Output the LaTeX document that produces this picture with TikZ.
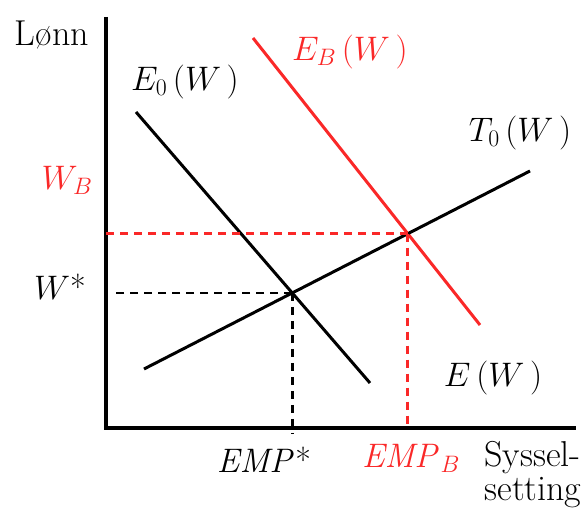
\RequirePackage{fix-cm}
\documentclass[tikz,border=0pt]{standalone}
\usetikzlibrary{intersections}
\definecolor{brred}{RGB}{250,40,40}
\begin{document}
\begin{tikzpicture}[x=1pt,y=1pt,font=\fontsize{34}{36}\selectfont,
  curve/.style={line width=3pt},
  guide/.style={line width=2.6pt, dash pattern=on 8pt off 6pt},
  word/.style={font=\fontsize{36}{34}\selectfont}]
  \useasboundingbox (0,0) rectangle (587,511);
  % akser
  \coordinate (O) at (106,83);
  \coordinate (ytop) at (106,494);
  \coordinate (xend) at (576,83);
  \draw[line width=3.5pt] (ytop) -- (O) -- (xend);
  % kurver
  \coordinate (e0a) at (136,399);
  \coordinate (e0b) at (370,128);
  \coordinate (eba) at (253,473);
  \coordinate (ebb) at (480,186);
  \coordinate (t0a) at (144,142);
  \coordinate (t0b) at (530,340);
  \draw[curve, name path=e0] (e0a) -- (e0b);
  \draw[curve, brred, name path=eb] (eba) -- (ebb);
  \draw[curve, name path=t0] (t0a) -- (t0b);
  \path[name intersections={of=e0 and t0, by=star}];
  \path[name intersections={of=eb and t0, by=bpt}];
  % stiplede linjer
  \coordinate (wgap) at (113,83);
  \coordinate (xbelow) at (106,78);
  \draw[guide] (star) -- (star -| wgap);
  \draw[guide] (star) -- (star |- xbelow);
  \draw[guide, brred] (bpt) -- (bpt -| O);
  \draw[guide, brred] (bpt) -- (bpt |- O);
  % tekster
  \node[word] (lonn) at (52,476) {Lønn};
  \node (e0lab) at (185,429) {$E_{0}\,(W\,)$};
  \node[brred] (eblab) at (350,459) {$E_{B}\,(W\,)$};
  \node (t0lab) at (520,378) {$T_{0}\,(W\,)$};
  \node (elab) at (493,133) {$E\,(W\,)$};
  \node[brred] (wblab) at (67,331) {$W_{B}$};
  \node (wstar) at (60,224) {$W$*};
  \node (empstar) at (264,51) {$\mathit{EMP}$*};
  \node[brred] (empb) at (411,53) {$\mathit{EMP}_{B}$};
  \node[word, align=left, inner sep=1pt] (syss) at (533,36) {Syssel-\\setting};
\end{tikzpicture}
\end{document}
